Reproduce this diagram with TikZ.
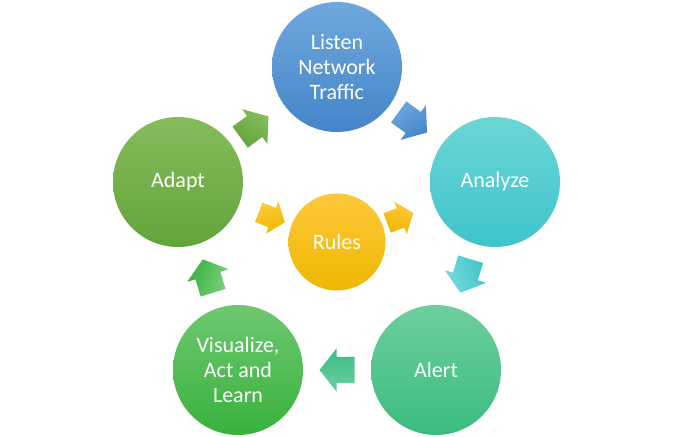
\documentclass[tikz,border=0pt]{standalone}
\usepackage{fontspec}
\setmainfont{Carlito}
\usetikzlibrary{calc}
\definecolor{listenT}{RGB}{111,168,222}
\definecolor{listenB}{RGB}{68,133,200}
\definecolor{analyzeT}{RGB}{108,214,214}
\definecolor{analyzeB}{RGB}{62,196,204}
\definecolor{alertT}{RGB}{110,206,158}
\definecolor{alertB}{RGB}{58,188,126}
\definecolor{visT}{RGB}{110,200,112}
\definecolor{visB}{RGB}{56,178,60}
\definecolor{adaptT}{RGB}{134,188,92}
\definecolor{adaptB}{RGB}{98,164,58}
\definecolor{rulesT}{RGB}{255,200,60}
\definecolor{rulesB}{RGB}{238,184,0}
\tikzset{
  circ/.style={circle, inner sep=0pt, minimum size=130pt, text=white, align=center,
    font=\fontsize{22}{25}\selectfont},
  pics/barrow/.style n args={3}{code={
    \shade[top color=#1, bottom color=#2, shading angle=#3]
      (-17.5,-13)--(0.5,-13)--(0.5,-21.5)--(17.5,0)--(0.5,21.5)--(0.5,13)--(-17.5,13)--cycle;
  }},
}
\begin{document}
\begin{tikzpicture}[x=1pt,y=1pt]
\useasboundingbox[fill=white] (0,0) rectangle (687,436);
\node[circ, top color=listenT, bottom color=listenB] (listen) at (337,369) {Listen\\Network\\Traffic};
\node[circ, top color=analyzeT, bottom color=analyzeB] (analyze) at (495,254) {Analyze};
\node[circ, top color=alertT, bottom color=alertB] (alert) at (436,66) {Alert};
\node[circ, top color=visT, bottom color=visB] (vis) at (238,66) {Visualize,\\Act and\\Learn};
\node[circ, top color=adaptT, bottom color=adaptB] (adapt) at (178,254) {Adapt};
\node[circ, minimum size=97pt, top color=rulesT, bottom color=rulesB] (rules) at (337,194) {Rules};

\pic[rotate=36] at ($(adapt)!0.48!(listen)$) {barrow={adaptT}{adaptB}{-36}};
\pic[rotate=-36] at ($(listen)!0.48!(analyze)$) {barrow={listenT}{listenB}{36}};
\pic[rotate=-107] at ($(analyze)!0.5!(alert)$) {barrow={analyzeT!90}{analyzeB}{107}};
\pic[rotate=180] at ($(alert)!0.5!(vis)$) {barrow={alertT}{alertB!90!analyzeB}{-180}};
\pic[rotate=107] at ($(vis)!0.5!(adapt)$) {barrow={visT!90!white}{visB}{-107}};
\pic[rotate=-21, scale=0.8] at ($(adapt)!0.59!(rules)$) {barrow={rulesT}{rulesB}{21}};
\pic[rotate=21, scale=0.8] at ($(rules)!0.40!(analyze)$) {barrow={rulesT}{rulesB}{-21}};
\end{tikzpicture}
\end{document}
